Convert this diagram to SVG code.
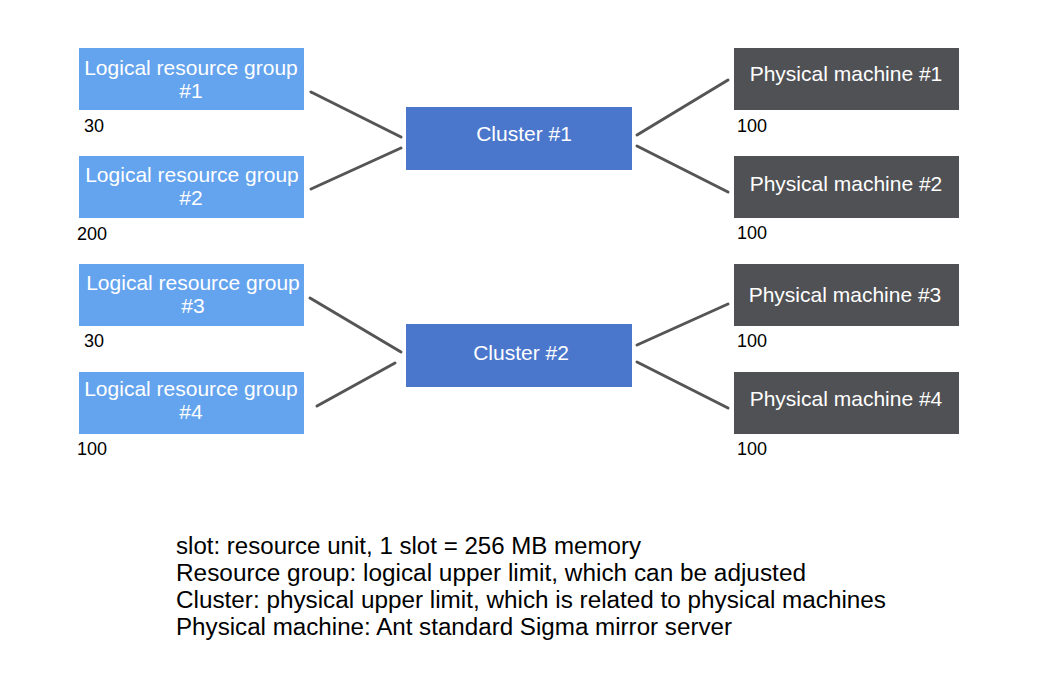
<svg xmlns="http://www.w3.org/2000/svg" width="1051" height="689" viewBox="0 0 1051 689">
<style>
.lrg{fill:#64a3ee}
.cl{fill:#4a77cc}
.pm{fill:#505154}
.t{font-family:"Liberation Sans",Arial,sans-serif;font-size:21px;fill:#fff;text-anchor:middle}
.n{font-family:"Liberation Sans",Arial,sans-serif;font-size:18px;fill:#000}
.c{stroke:#555;stroke-width:3;fill:none;stroke-linecap:round}
.note{font-family:"Liberation Sans",Arial,sans-serif;font-size:23px;fill:#000}
</style>
<rect width="1051" height="689" fill="#fff"/>
<g id="connectors">
<line class="c" x1="311" y1="92" x2="401" y2="137"/>
<line class="c" x1="311" y1="189" x2="401" y2="148"/>
<line class="c" x1="637" y1="135" x2="728" y2="80"/>
<line class="c" x1="637" y1="146" x2="728" y2="192"/>
<line class="c" x1="310" y1="298" x2="401" y2="352"/>
<line class="c" x1="317" y1="406" x2="395" y2="363"/>
<line class="c" x1="637" y1="345" x2="728" y2="304"/>
<line class="c" x1="637" y1="362" x2="728" y2="408"/>
</g>
<g id="lrg1"><rect class="lrg" x="79" y="48" width="225" height="62"/><text class="t" x="191" y="75">Logical resource group</text><text class="t" x="191" y="98">#1</text><text class="n" x="84" y="132">30</text></g>
<g id="lrg2"><rect class="lrg" x="79" y="156" width="225" height="62"/><text class="t" x="192" y="182">Logical resource group</text><text class="t" x="191" y="205">#2</text><text class="n" x="77" y="240">200</text></g>
<g id="lrg3"><rect class="lrg" x="79" y="264" width="225" height="62"/><text class="t" x="193" y="290">Logical resource group</text><text class="t" x="193" y="313">#3</text><text class="n" x="84" y="347">30</text></g>
<g id="lrg4"><rect class="lrg" x="79" y="372" width="225" height="62"/><text class="t" x="191" y="396">Logical resource group</text><text class="t" x="191" y="419">#4</text><text class="n" x="77" y="455">100</text></g>
<g id="cluster1"><rect class="cl" x="406" y="107" width="226" height="63"/><text class="t" x="524" y="141">Cluster #1</text></g>
<g id="cluster2"><rect class="cl" x="406" y="324" width="226" height="63"/><text class="t" x="521" y="360">Cluster #2</text></g>
<g id="pm1"><rect class="pm" x="734" y="48" width="225" height="62"/><text class="t" x="846" y="81">Physical machine #1</text><text class="n" x="737" y="132">100</text></g>
<g id="pm2"><rect class="pm" x="734" y="156" width="225" height="62"/><text class="t" x="846" y="191">Physical machine #2</text><text class="n" x="737" y="239">100</text></g>
<g id="pm3"><rect class="pm" x="734" y="264" width="225" height="62"/><text class="t" x="845" y="302">Physical machine #3</text><text class="n" x="737" y="347">100</text></g>
<g id="pm4"><rect class="pm" x="734" y="372" width="225" height="62"/><text class="t" x="846" y="406">Physical machine #4</text><text class="n" x="737" y="455">100</text></g>
<g id="notes">
<text class="note" x="176" y="554" textLength="465" lengthAdjust="spacingAndGlyphs">slot: resource unit, 1 slot = 256 MB memory</text>
<text class="note" x="176" y="581" textLength="630" lengthAdjust="spacingAndGlyphs">Resource group: logical upper limit, which can be adjusted</text>
<text class="note" x="176" y="608" textLength="710" lengthAdjust="spacingAndGlyphs">Cluster: physical upper limit, which is related to physical machines</text>
<text class="note" x="176" y="635" textLength="556" lengthAdjust="spacingAndGlyphs">Physical machine: Ant standard Sigma mirror server</text>
</g>
</svg>
